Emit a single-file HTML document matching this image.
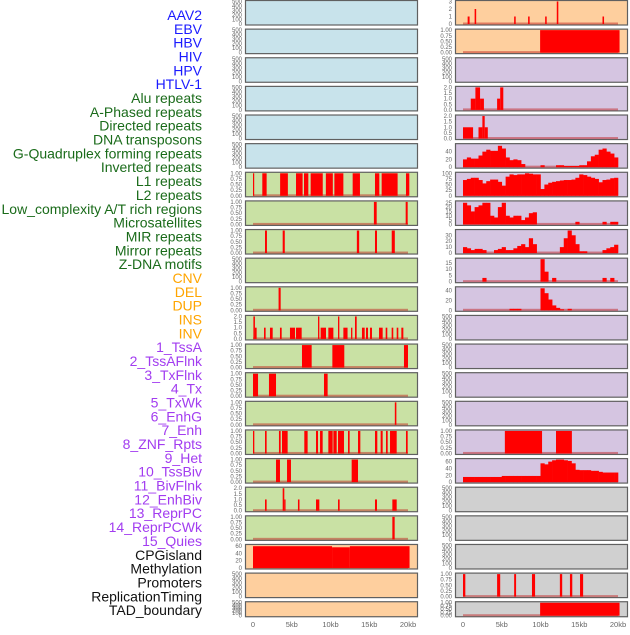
<!DOCTYPE html>
<html><head><meta charset="utf-8">
<style>
body{margin:0;background:#fff;width:630px;height:630px;overflow:hidden;font-family:"Liberation Sans",sans-serif}
#labels text{font-size:14px}
.tk{font-size:6px;fill:#666;font-family:"Liberation Sans",sans-serif}
.xt{font-size:7.5px;fill:#666;font-family:"Liberation Sans",sans-serif}
</style></head>
<body>
<svg id="chart" width="630" height="630" xmlns="http://www.w3.org/2000/svg">
<g id="labels"></g>
<g id="panels"></g>
</svg>
<script>
const trackLabels = ["AAV2","EBV","HBV","HIV","HPV","HTLV-1","Alu repeats","A-Phased repeats","Directed repeats","DNA transposons","G-Quadruplex forming repeats","Inverted repeats","L1 repeats","L2 repeats","Low_complexity A/T rich regions","Microsatellites","MIR repeats","Mirror repeats","Z-DNA motifs","CNV","DEL","DUP","INS","INV","1_TssA","2_TssAFlnk","3_TxFlnk","4_Tx","5_TxWk","6_EnhG","7_Enh","8_ZNF_Rpts","9_Het","10_TssBiv","11_BivFlnk","12_EnhBiv","13_ReprPC","14_ReprPCWk","15_Quies","CPGisland","Methylation","Promoters","ReplicationTiming","TAD_boundary"];
const labelGroups = [6,13,5,15,5];
const groupColors = ["#1a1aff","#1a6b1a","#ffa500","#a23cf0","#111111"];
const xTickValues = [0,5,10,15,20];
const xTickLabels = ["0","5kb","10kb","15kb","20kb"];

// left column panels: bg, ymax, ticks, segments [startKb,endKb,value]
const leftBg = ["b","b","b","b","b","b","g","g","g","g","g","g","g","g","g","g","g","g","g","o","o","o"];
const leftMax = [500,500,500,500,500,500,1,1,1,500,1,2,1,1,1,1,1,2,1,62,500,500];
const leftSegs = [[],[],[],[],[],[],
 [[0,0.15,1],[1.2,1.76,1],[3.5,4.5,1],[5.55,6.4,1],[6.58,7.14,1],[7.44,9.0,1],[9.4,10.3,1],[10.5,11.66,1],[12.86,13.8,1],[15.74,16.3,1],[16.6,18.66,1],[19.74,20.17,1]],
 [[15.6,15.96,1],[19.7,19.96,1]],
 [[1.55,1.8,1],[3.83,4.1,1],[13.4,13.7,1],[15.74,16,1],[17.9,18.3,1]],
 [],
 [[3.3,3.57,1]],
 [[0.05,0.25,2],[0.25,0.47,1],[1.42,1.63,1],[2.19,2.54,1],[3.48,3.7,1],[4.77,5.42,1],[5.55,6.28,1],[8.39,8.56,2],[8.73,9.42,1],[9.72,10.37,1],[10.97,11.14,2],[11.66,12.2,1],[12.65,12.82,1],[13.16,13.38,2],[14.06,14.41,1],[14.58,14.84,1],[15.1,15.35,1],[16.26,16.73,1],[17.12,17.33,1],[17.89,18.1,1],[18.54,18.75,1],[19.14,19.4,1]],
 [[6.32,7.57,1],[10.24,11.78,1],[19.48,20,1]],
 [[0,0.65,1],[2.06,2.97,1],[9.16,9.63,1]],
 [[18.3,18.5,1]],
 [[0,0.17,1],[1.55,1.76,1],[3.35,3.57,1],[3.74,4.47,1],[6.62,7.05,1],[8.13,8.39,1],[8.65,8.99,1],[9.72,10.28,1],[10.37,10.8,1],[10.97,11.74,1],[12.26,12.47,1],[13.55,13.85,1],[15.74,16.04,1],[16.47,16.73,1],[17.16,17.38,1],[17.68,18.54,1],[19.74,19.96,1]],
 [[2.97,3.48,1],[4.39,4.9,1],[12.73,13.55,1]],
 [[1.55,1.76,1],[3.83,4.04,2],[4.04,4.2,1],[5.8,6.0,1],[8.13,8.56,1],[10.97,11.18,1],[15.74,16,1],[17.98,18.54,1]],
 [[17.98,18.28,1]],
 [[0,10.2,60],[10.2,12.5,57],[12.5,20.2,60]],
 [],[]];

// right column
const rightBg = ["o","o","p","p","p","p","p","p","p","p","p","p","p","p","p","p","p","y","y","y","y","y"];
const rightMax = [3,1,500,2,2,58,100,26,38,18,46,500,500,500,500,1,66,500,500,500,1,1];
const rightSegs = {
 0:[[0.6,0.85,1],[1.5,1.7,2],[6.6,6.8,1],[8.4,8.6,1],[10.6,10.8,1],[12.1,12.3,3],[18.0,18.2,1]],
 1:[[9.95,20.2,1]],
 3:[[1.0,1.6,1],[1.6,2.2,2],[2.2,2.7,1],[4.4,4.8,1],[4.8,5.2,2]],
 4:[[0,1.3,1],[2.0,2.5,1],[2.5,2.8,2],[2.8,3.2,1]],
 15:[[5.4,10.2,1],[12.0,14.05,1]],
 20:[[0,0.3,1],[4.4,4.8,1],[6.6,6.85,1],[8.9,9.3,1],[12.5,12.8,1],[13.8,14.1,1],[15.1,15.5,1]],
 21:[[9.95,20.2,1]]
};
// continuous tracks, one value per 0.5kb bin
const gquadValues = [20,25,22,22,30,40,45,42,42,55,48,25,18,20,18,8,0,0,0,0,5,0,0,0,5,5,3,3,3,3,5,5,15,28,32,45,48,40,35,25];
const l1Values = [70,75,80,80,70,55,65,72,72,62,45,85,95,92,95,95,100,98,95,95,30,50,58,62,65,68,70,70,72,80,95,92,85,80,75,60,70,72,78,80];
const l2Values = [25,22,15,20,22,25,25,10,8,20,25,10,8,10,10,5,8,13,14,0,0,0,0,0,0,0,0,0,0,3,0,0,0,0,0,0,3,0,3,3];
const lowCompValues = [10,8,5,7,7,5,0,0,5,7,10,5,5,8,12,15,10,25,15,0,0,0,0,0,0,10,25,38,30,15,3,3,0,0,0,0,5,8,10,14];
const microValues = [0,0,0,0,0,3,0,0,0,0,0,0,0,0,0,0,0,0,0,0,18,8,0,3,0,0,0,0,0,0,0,0,0,0,0,0,3,0,3,0];
const mirValues = [0,0,0,0,0,0,0,0,0,0,0,0,3,3,3,0,0,0,0,0,45,35,22,10,5,2,0,3,0,0,0,0,0,0,0,0,0,0,0,0];
const hetValues = [15,15,15,15,15,15,15,15,15,15,18,18,18,18,18,18,18,18,18,18,55,52,60,64,66,66,64,62,55,36,35,35,35,33,33,30,28,28,28,28];
const rightCont = {5:gquadValues,6:l1Values,7:l2Values,8:lowCompValues,9:microValues,10:mirValues,16:hetValues};

const bgColors = {b:"#c8e3eb",g:"#c9e1a4",o:"#fecf9e",p:"#d5c5e1",y:"#d0d0d0"};
const NS="http://www.w3.org/2000/svg";
const svg=document.getElementById('chart');
const gL=document.getElementById('labels');
const gP=document.getElementById('panels');
function mk(tag,attrs,parent){const e=document.createElementNS(NS,tag);for(const k in attrs)e.setAttribute(k,attrs[k]);parent.appendChild(e);return e;}

// labels
let li=0;
labelGroups.forEach((n,gi)=>{for(let k=0;k<n;k++){const t=mk('text',{x:202,y:15+li*13.84+5,'text-anchor':'end',fill:groupColors[gi]},gL);


t.textContent=trackLabels[li];li++;}});

const colX=[245,455], PW=172, STEP=28.63;
function xScale(col,kb){return colX[col]+8+kb*7.75;}
function ticksFor(max){
 if(max===500) return [[0,"0"],[100,"100"],[200,"200"],[300,"300"],[400,"400"],[500,"500"]];
 if(max===1) return [[0,"0.00"],[0.25,"0.25"],[0.5,"0.50"],[0.75,"0.75"],[1,"1.00"]];
 if(max===2) return [[0,"0.0"],[0.5,"0.5"],[1,"1.0"],[1.5,"1.5"],[2,"2.0"]];
 if(max===3) return [[0,"0"],[1,"1"],[2,"2"],[3,"3"]];
 const st = max>80?25:(max>40?20:(max>=30?10:5));
 const r=[];for(let v=0;v<=max+0.01;v+=st)r.push([v,String(v)]);return r;
}
function drawPanel(col,row,bg,max,segs,cont){
 const top=row*STEP+0.5, h=row===21?15:24.5;
 const g=mk('g',{},gP);
 
 
 mk('rect',{x:colX[col]+0.5,y:top,width:PW,height:h,fill:bgColors[bg],stroke:'#606060','stroke-width':1.2},g);
 const yS=v=>top+h-1-(v/max)*(h-2);
 ticksFor(max).forEach(([v,l])=>{const t=mk('text',{x:colX[col]-3,y:yS(v)+2,'text-anchor':'end',class:'tk'},g);t.textContent=l;});
 const hasData=(segs&&segs.length)||cont;
 if(hasData){const b=mk('rect',{x:xScale(col,0),y:top+h-2.5,width:xScale(col,20)-xScale(col,0),height:2,fill:'rgba(190,20,20,0.45)'},g);
  
  }
 (segs||[]).forEach(s=>{const x0=xScale(col,s[0]),x1=xScale(col,s[1]);
  const r=mk('rect',{x:x0,y:yS(s[2]),width:Math.max(1.2,x1-x0),height:top+h-1-yS(s[2]),fill:'#ff0000'},g);
  
  });
 if(cont){cont.forEach((v,i)=>{if(v<=0)return;const x0=xScale(col,i*0.5),x1=xScale(col,i*0.5+0.5)+0.3;
  const r=mk('rect',{x:x0,y:yS(v),width:x1-x0,height:top+h-1-yS(v),fill:'#ff0000'},g);
  
  });}
}
for(let r=0;r<22;r++){
 drawPanel(0,r,leftBg[r],leftMax[r],leftSegs[r],null);
 drawPanel(1,r,rightBg[r],rightMax[r],rightSegs[r]||[],rightCont[r]||null);
}
[0,1].forEach(col=>{xTickValues.forEach((v,i)=>{const t=mk('text',{x:xScale(col,v),y:627,'text-anchor':'middle',class:'xt'},gP);
 
 
 t.textContent=xTickLabels[i];});});
</script>
</body></html>
